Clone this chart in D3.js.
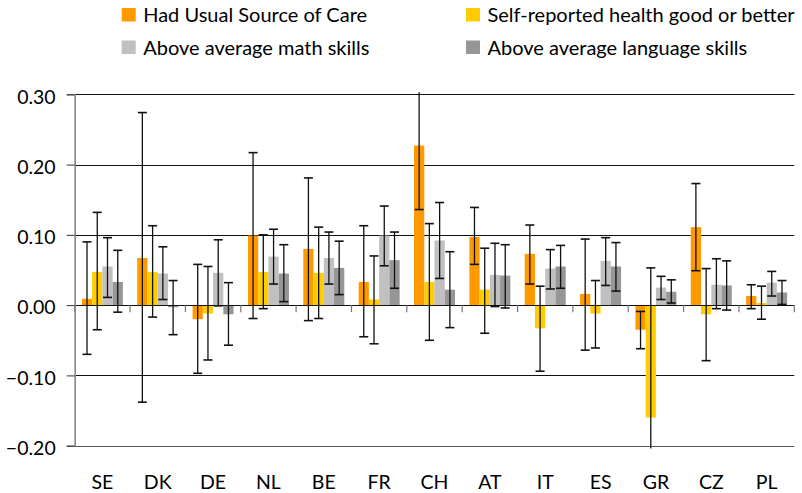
<!DOCTYPE html>
<html>
<head>
<meta charset="utf-8">
<script src="https://cdn.jsdelivr.net/npm/d3@7"></script>
<style>
  html, body { margin: 0; padding: 0; background: #fff; }
  svg { display: block; font-family: Lato, "Open Sans", sans-serif; }
</style>
</head>
<body>
<svg id="chart" width="802" height="493"></svg>
<script>
const categories = ["SE","DK","DE","NL","BE","FR","CH","AT","IT","ES","GR","CZ","PL"];
const seriesNames = ["Had Usual Source of Care","Self-reported health good or better","Above average math skills","Above average language skills"];

const usualCare   = [0.009, 0.067, -0.020, 0.099, 0.080, 0.033, 0.227, 0.097, 0.073, 0.016, -0.035, 0.111, 0.013];
const usualCareLo = [-0.070, -0.138, -0.097, -0.019, -0.022, -0.045, 0.136, 0.058, 0.030, -0.064, -0.062, 0.049, -0.005];
const usualCareHi = [0.090, 0.274, 0.058, 0.217, 0.181, 0.113, 0.303, 0.139, 0.114, 0.094, -0.009, 0.173, 0.029];

const health   = [0.047, 0.047, -0.012, 0.047, 0.046, 0.008, 0.033, 0.022, -0.033, -0.012, -0.160, -0.013, 0.003];
const healthLo = [-0.035, -0.017, -0.078, -0.005, -0.019, -0.055, -0.050, -0.040, -0.094, -0.061, -0.204, -0.079, -0.020];
const healthHi = [0.132, 0.113, 0.055, 0.100, 0.111, 0.070, 0.116, 0.081, 0.027, 0.035, 0.053, 0.052, 0.027];

const math   = [0.055, 0.045, 0.046, 0.069, 0.067, 0.099, 0.092, 0.043, 0.052, 0.063, 0.025, 0.029, 0.032];
const mathLo = [0.011, 0.008, -0.001, 0.030, 0.030, 0.056, 0.038, -0.002, 0.023, 0.028, 0.008, -0.005, 0.013];
const mathHi = [0.096, 0.083, 0.093, 0.108, 0.104, 0.141, 0.146, 0.088, 0.079, 0.096, 0.041, 0.066, 0.048];

const language   = [0.033, -0.003, -0.013, 0.045, 0.053, 0.064, 0.022, 0.042, 0.055, 0.055, 0.019, 0.028, 0.018];
const languageLo = [-0.010, -0.042, -0.057, 0.005, 0.015, 0.024, -0.032, -0.004, 0.024, 0.020, 0.003, -0.007, 0.001];
const languageHi = [0.078, 0.035, 0.032, 0.086, 0.091, 0.104, 0.076, 0.086, 0.085, 0.089, 0.036, 0.063, 0.035];

const yTicks = [-0.2, -0.1, 0, 0.1, 0.2, 0.3];
const colors = ["#FF9900", "#FFCC00", "#C0C0C0", "#969696"];

const values = [usualCare, health, math, language];
const lows = [usualCareLo, healthLo, mathLo, languageLo];
const highs = [usualCareHi, healthHi, mathHi, languageHi];

(function () {
const svg = d3.select("#chart");
const pLeft = 74.7, pRight = 794.3, pTop = 94.3, pBottom = 445.7;

const y = d3.scaleLinear().domain([-0.2, 0.3]).range([pBottom, pTop]);
const x0 = d3.scaleBand().domain(categories).range([pLeft, pRight]).paddingInner(0).paddingOuter(0);
const x1 = d3.scaleBand().domain(d3.range(seriesNames.length)).range([0, x0.bandwidth()]).paddingInner(0).paddingOuter(0.7);

// gridlines
svg.append("g").selectAll("line").data(yTicks).join("line")
  .attr("x1", pLeft).attr("x2", pRight)
  .attr("y1", d => Math.round(y(d)) + 0.5).attr("y2", d => Math.round(y(d)) + 0.5)
  .attr("stroke", d => d === -0.2 ? "#555" : "#111").attr("stroke-width", 1.1);

// bars
const data = [];
categories.forEach((c, i) => {
  values.forEach((arr, s) => {
    data.push({c, s, v: arr[i], lo: lows[s][i], hi: highs[s][i]});
  });
});

svg.append("g").selectAll("rect").data(data).join("rect")
  .attr("x", d => x0(d.c) + x1(d.s))
  .attr("width", x1.bandwidth())
  .attr("y", d => Math.min(y(d.v), y(0)))
  .attr("height", d => Math.abs(y(d.v) - y(0)))
  .attr("fill", d => colors[d.s]);

// zero line over bars
svg.append("line")
  .attr("x1", pLeft).attr("x2", pRight)
  .attr("y1", Math.round(y(0)) + 0.5).attr("y2", Math.round(y(0)) + 0.5)
  .attr("stroke", "#111").attr("stroke-width", 1.1);

// category ticks at zero line
svg.append("g").selectAll("line").data(categories.concat(["_end"])).join("line")
  .attr("x1", (d, i) => pLeft + i * x0.step()).attr("x2", (d, i) => pLeft + i * x0.step())
  .attr("y1", y(0)).attr("y2", y(0) + 7)
  .attr("stroke", "#777").attr("stroke-width", 1.2);

// error bars
const [yMin, yMax] = y.domain();
const eb = svg.append("g").attr("stroke", "#111").attr("stroke-width", 1.3);
const capW = 4.5;
data.forEach(d => {
  const cx = x0(d.c) + x1(d.s) + x1.bandwidth() / 2;
  eb.append("line").attr("x1", cx).attr("x2", cx).attr("y1", y(d.lo)).attr("y2", y(d.hi));
  [d.lo, d.hi].forEach(v => {
    if (v >= yMin && v <= yMax) {
      eb.append("line").attr("x1", cx - capW).attr("x2", cx + capW)
        .attr("y1", y(v)).attr("y2", y(v)).attr("stroke-width", 1.6);
    }
  });
});

// y axis
const yAxis = d3.axisLeft(y).tickValues(yTicks).tickFormat(d3.format(".2f")).tickSizeOuter(0).tickSize(8).tickPadding(11);
const ga = svg.append("g").attr("transform", `translate(${pLeft},0)`).call(yAxis);
ga.select(".domain").attr("stroke", "#888").attr("stroke-width", 1.6);
ga.selectAll(".tick line").attr("stroke", "#333");
ga.selectAll(".tick text").attr("font-size", 19.5).attr("font-family", "Lato").attr("fill", "#000").attr("dy", "0.45em");

// x labels
svg.append("g").selectAll("text").data(categories).join("text")
  .attr("x", d => x0(d) + x0.bandwidth() / 2)
  .attr("y", 488.5)
  .attr("text-anchor", "middle")
  .attr("font-size", 19.5)
  .attr("fill", "#000")
  .text(d => d);

// legend
const legendPos = [[121.7, 15], [466, 15], [121.7, 47.5], [466, 47.5]];
const lg = svg.append("g").selectAll("g").data(seriesNames).join("g")
  .attr("transform", (d, i) => `translate(${legendPos[i][0]},${legendPos[i][1]})`);
lg.append("rect").attr("x", 0).attr("y", -7).attr("width", 14).attr("height", 13.5).attr("fill", (d, i) => colors[i]);
lg.append("text").attr("x", 21.5).attr("y", 0).attr("dy", "0.36em").attr("font-size", 20).attr("fill", "#000").text(d => d);
})();
</script>
</body>
</html>
